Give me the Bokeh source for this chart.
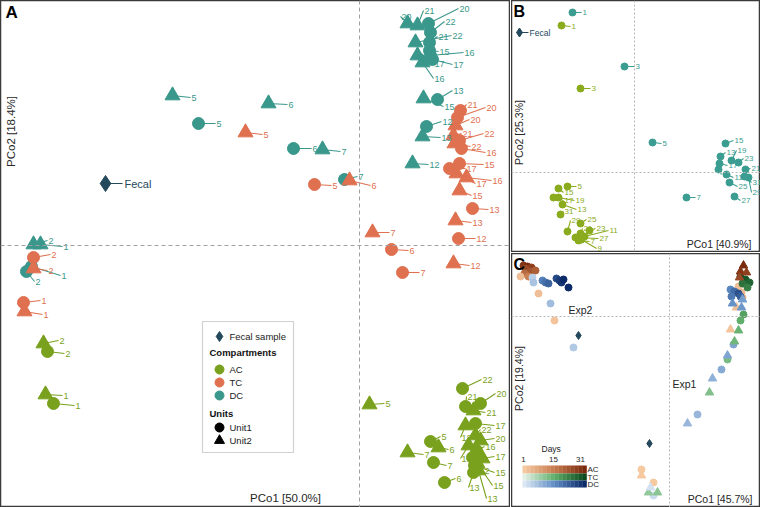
import math
from bokeh.plotting import figure
from bokeh.models import (ColumnDataSource, Span, Label, BoxAnnotation, Range1d)
from bokeh.layouts import row, column
from bokeh.embed import file_html
from bokeh.resources import INLINE
from bokeh.core.properties import value

FONT = "Liberation Sans"

# ---------------- Panel A data (PCoA, two units, three compartments) ----------------
a_comp = ["DC"] * 26 + ["TC"] * 26 + ["AC"] * 26
a_unit = ([1] * 13 + [2] * 13) * 3
a_day = [
    5, 6, 7, 2, 1, 20, 22, 21, 15, 16, 17, 13, 12,      # DC unit1
    5, 6, 7, 2, 1, 20, 21, 22, 17, 16, 15, 13, 12,      # DC unit2
    5, 6, 7, 2, 1, 21, 20, 22, 16, 15, 17, 13, 12,      # TC unit1
    5, 6, 7, 2, 1, 20, 21, 22, 17, 16, 15, 13, 12,      # TC unit2
    2, 1, 5, 7, 6, 22, 21, 20, 17, 16, 15, 13, 12,      # AC unit1
    2, 1, 5, 6, 7, 21, 12, 22, 20, 16, 17, 15, 13,      # AC unit2
]
a_pco1 = [
    -0.161, -0.066, -0.015, -0.333, -0.328, 0.069, 0.071, 0.070, 0.070, 0.071, 0.073, 0.078, 0.067,
    -0.187, -0.091, -0.037, -0.326, -0.319, 0.048, 0.058, 0.056, 0.058, 0.063, 0.064, 0.063, 0.053,
    -0.045, 0.032, 0.043, -0.326, -0.336, 0.101, 0.098, 0.100, 0.102, 0.100, 0.090, 0.113, 0.099,
    -0.114, -0.010, 0.013, -0.326, -0.335, 0.096, 0.094, 0.095, 0.097, 0.107, 0.100, 0.096, 0.094,
    -0.312, -0.306, 0.071, 0.074, 0.085, 0.103, 0.106, 0.121, 0.116, 0.117, 0.115, 0.114, 0.113,
    -0.316, -0.314, 0.010, 0.079, 0.048, 0.114, 0.106, 0.116, 0.121, 0.109, 0.123, 0.118, 0.119,
]
a_pco2 = [
    0.122, 0.097, 0.066, -0.026, -0.021, 0.222, 0.213, 0.203, 0.195, 0.190, 0.186, 0.146, 0.119,
    0.150, 0.142, 0.096, 0.001, 0.001, 0.222, 0.220, 0.203, 0.190, 0.183, 0.147, 0.109, 0.082,
    0.061, -0.004, -0.027, -0.012, -0.057, 0.135, 0.128, 0.105, 0.097, 0.082, 0.077, 0.037, 0.007,
    0.113, 0.065, 0.013, -0.023, -0.066, 0.120, 0.110, 0.102, 0.072, 0.068, 0.055, 0.025, -0.018,
    -0.106, -0.158, -0.196, -0.217, -0.237, -0.143, -0.161, -0.158, -0.178, -0.205, -0.220, -0.227, -0.212,
    -0.098, -0.149, -0.159, -0.202, -0.207, -0.165, -0.180, -0.190, -0.195, -0.200, -0.213, -0.218, -0.225,
]
# label offsets (pixels) of the repelled day labels
a_lab_dx = [
    17, 18, 13, 8, 29, 30, 14, 8, 9, 33, 20, 15, 15,
    18, 19, 18, 14, 22, -7, 6, 36, 16, 11, 20, 18, 16,
    17, 17, 17, 17, 17, 6, 28, 24, 24, 24, 16, 16, 17,
    17, 21, 17, 14, 18, 14, 8, 16, 19, 25, 12, 16, 16,
    17, 21, 10, 13, 11, 19, 1, 15, 19, 8, 20, -5, 6,
    15, 17, 15, 10, 16, 12, -5, 5, 14, -8, 12, 15, 8,
]
a_lab_dy = [
    0, 0, -3, 10, 9, -15, -11, -6, 1, -3, 5, -9, -5,
    2, 1, 2, -4, 2, -7, -15, -7, 8, 16, 8, 1, 1,
    1, 1, 0, -3, -2, -6, -10, -7, 4, 1, 0, 1, 0,
    2, 5, 0, 2, 3, -6, -2, 3, 10, 3, 5, 2, 2,
    2, 2, -5, 3, -4, -9, -10, -10, 2, -4, 7, 15, 13,
    -3, 1, -1, 2, 2, 2, 12, -6, -2, 13, -2, 22, 28,
]
a_fecal_pco1 = [-0.254]
a_fecal_pco2 = [0.062]

# ---------------- Panel B data ----------------
b_comp = ["DC"] * 16 + ["AC"] * 16
b_day = list(range(1, 32, 2)) * 2
b_pco1 = [
    -0.062, -0.010, 0.018, 0.052, 0.084, 0.092, 0.086, 0.091, 0.085, 0.097, 0.111, 0.104, 0.095, 0.100, 0.114, 0.110,
    -0.073, -0.054, -0.067, -0.056, -0.053, -0.050, -0.072, -0.076, -0.081, -0.076, -0.054, -0.045, -0.054, -0.059, -0.067, -0.074,
]
b_pco2 = [
    0.160, 0.106, 0.030, -0.025, 0.003, -0.002, 0.016, 0.029, 0.009, 0.012, 0.003, 0.010, -0.010, -0.024, -0.005, -0.004,
    0.147, 0.084, -0.014, -0.068, -0.067, -0.064, -0.032, -0.016, -0.025, -0.025, -0.061, -0.058, -0.051, -0.065, -0.059, -0.042,
]
b_lab_dx = [9, 10, 9, 9, 3, 7, 5, 8, 8, 5, 5, 5, 8, 6, 3, 7,
            9, 10, 9, 11, 15, 24, 14, 5, 10, 16, 2, 6, 6, 23, 3, 3]
b_lab_dy = [0, 0, 1, 0, 5, 3, -4, -3, 2, -10, -1, -4, 4, 4, 15, 6,
            1, 0, 0, 1, 9, -6, 5, 4, 3, 3, -5, -2, -4, 1, -11, -3]
b_fecal_pco1 = [-0.115]
b_fecal_pco2 = [0.140]

# ---------------- Panel C data (two experiments) ----------------
c_comp = (["AC"] * 11 + ["DC"] * 12 +                 # Exp2
          ["AC"] * 7 + ["AC"] * 5 + ["TC"] * 8 + ["TC"] * 5 + ["DC"] * 9 + ["DC"] * 7)
c_unit = ([1] * 11 + [1] * 12 +
          [2] * 7 + [1] * 5 + [1] * 8 + [2] * 5 + [1] * 9 + [2] * 7)
c_day = [
    29, 31, 27, 25, 23, 21, 19, 15, 3, 3, 2,
    5, 7, 18, 20, 22, 26, 28, 29, 31, 31, 8, 6,
    31, 29, 27, 25, 3, 2, 1,
    3, 4, 5, 1, 1,
    31, 29, 27, 25, 23, 18, 16, 13,
    15, 14, 12, 10, 11,
    17, 21, 25, 19, 23, 12, 11, 9, 3,
    15, 13, 14, 12, 10, 9, 2,
]
c_pco1 = [
    -0.146, -0.142, -0.138, -0.144, -0.139, -0.134, -0.145, -0.141, -0.149, -0.131, -0.115,
    -0.137, -0.136, -0.127, -0.124, -0.121, -0.113, -0.110, -0.108, -0.106, -0.101, -0.119, -0.096,
    0.074, 0.071, 0.077, 0.070, 0.067, 0.061, -0.028,
    0.069, 0.072, 0.073, -0.028, -0.016,
    0.071, 0.076, 0.080, 0.073, 0.078, 0.074, 0.071, 0.058,
    0.069, 0.065, 0.040, -0.021, -0.012,
    0.061, 0.065, 0.069, 0.062, 0.071, 0.064, 0.052, 0.028, -0.016,
    0.063, 0.073, 0.072, 0.058, 0.043, 0.018, -0.019,
]
c_pco2 = [
    0.051, 0.050, 0.049, 0.048, 0.045, 0.046, 0.043, 0.040, 0.040, 0.023, -0.004,
    0.039, 0.034, 0.036, 0.034, 0.033, 0.038, 0.036, 0.034, 0.037, 0.029, 0.013, -0.031,
    0.051, 0.045, 0.044, 0.039, 0.009, -0.013, -0.159,
    0.030, 0.024, 0.019, -0.153, -0.166,
    0.040, 0.037, 0.034, 0.033, 0.029, 0.002, -0.004, -0.043,
    -0.014, -0.025, -0.076, -0.176, -0.176,
    0.027, 0.025, 0.023, 0.020, 0.020, -0.028, -0.053, -0.098, -0.179,
    0.013, 0.017, 0.009, -0.039, -0.062, -0.107, -0.171,
]
c_fecal_pco1 = [-0.091, -0.020]
c_fecal_pco2 = [-0.019, -0.127]
c_legend_days = list(range(1, 32, 2))

# ---------------- styles ----------------
COL_A = {"AC": "#79a11d", "TC": "#df7050", "DC": "#3a978b"}
COL_B = {"AC": "#8aab1d", "DC": "#3b9d91"}
FECAL = "#24495c"
MARK = {1: "circle", 2: "triangle"}
GRAD = {"AC": ["#f6c9a1", "#c77a4d", "#7a2a0c"],
        "TC": ["#e2efe4", "#5fae6a", "#0b4a1f"],
        "DC": ["#dbe7f4", "#5d8cc4", "#0b2a68"]}


def hex2rgb(h):
    return tuple(int(h[i:i + 2], 16) for i in (1, 3, 5))


def day_color(comp, day):
    stops = GRAD[comp]
    t = (day - 1) / 30 * 2
    i = min(int(t), 1)
    f = t - i
    a, b = hex2rgb(stops[i]), hex2rgb(stops[i + 1])
    return "#%02x%02x%02x" % tuple(round(a[k] + (b[k] - a[k]) * f) for k in range(3))


def make_fig(w, h, xr, yr, dash="4 3", dash_col="#a0a0a0"):
    p = figure(width=w, height=h, x_range=Range1d(*xr), y_range=Range1d(*yr),
               output_backend="svg", toolbar_location=None,
               x_axis_location=None, y_axis_location=None, min_border=0)
    p.grid.visible = False
    p.outline_line_color = "#3a3a3a"
    p.outline_line_width = 1.5
    p.background_fill_color = "white"
    p.border_fill_color = "white"
    for dim in ("width", "height"):
        p.add_layout(Span(location=0, dimension=dim, line_color=dash_col,
                          line_dash=dash, line_width=1))
    return p


def add_label(p, text, x, y, size, bold=False, angle=0.0, align="left",
              baseline="middle", color="#262626"):
    p.add_layout(Label(x=x, y=y, x_units="screen", y_units="screen", text=text,
                       angle=angle, text_font=FONT, text_font_size=size,
                       text_font_style="bold" if bold else "normal",
                       text_align=align, text_baseline=baseline, text_color=color))


def add_points(p, comp, unit, day, x, y, ldx, ldy, colors, sizes, fsize, order):
    n = len(x)
    lx = [x[i] + ldx[i] / 1000 for i in range(n)]
    ly = [y[i] - ldy[i] / 1000 for i in range(n)]
    cols = [colors[c] for c in comp]
    seg = ColumnDataSource(dict(x0=x, y0=y, x1=lx, y1=ly, c=cols))
    p.segment("x0", "y0", "x1", "y1", source=seg, line_color="c", line_width=1.1)
    for cc, uu in order:
        idx = [i for i in range(n) if comp[i] == cc and unit[i] == uu]
        src = ColumnDataSource(dict(x=[x[i] for i in idx], y=[y[i] for i in idx]))
        p.scatter("x", "y", source=src, marker=MARK[uu], size=sizes[uu],
                  fill_color=colors[cc], line_color=colors[cc])
    tsrc = ColumnDataSource(dict(x=lx, y=ly, t=[str(d) for d in day], c=cols))
    p.text("x", "y", text="t", source=tsrc, text_color="c", text_font=value(FONT),
           text_font_size=fsize, text_baseline="middle", text_align="left", x_offset=1)


# ---------------- Panel A ----------------
A_XR, A_YR, A_W, A_H = (-0.359, 0.151), (-0.262, 0.245), 510, 507
pA = make_fig(A_W, A_H, A_XR, A_YR)
add_points(pA, a_comp, a_unit, a_day, a_pco1, a_pco2, a_lab_dx, a_lab_dy, COL_A,
           {1: 12, 2: 15}, "9px",
           [("DC", 2), ("DC", 1), ("TC", 2), ("TC", 1), ("AC", 2), ("AC", 1)])
fa = ColumnDataSource(dict(x=a_fecal_pco1, y=a_fecal_pco2,
                           x1=[a_fecal_pco1[0] + 0.017], t=["Fecal"]))
pA.segment("x", "y", "x1", "y", source=fa, line_color=FECAL, line_width=1.2)
pA.scatter("x", "y", source=fa, marker="diamond", size=16, color=FECAL)
pA.text("x1", "y", text="t", source=fa, text_color=FECAL, text_font=value(FONT),
        text_font_size="11px", text_baseline="middle", x_offset=2)

add_label(pA, "A", 5, 505, "17px", bold=True, baseline="top", color="black")
add_label(pA, "PCo2 [18.4%]", 10, 376, "11.5px", angle=math.pi / 2, align="center")
add_label(pA, "PCo1 [50.0%]", 285, 10, "11.5px", align="center")

# legend box for panel A (keys placed in screen pixels inside the box)
pA.add_layout(BoxAnnotation(left=202, right=293, bottom=55, top=186,
                            left_units="screen", right_units="screen",
                            bottom_units="screen", top_units="screen",
                            fill_color="white", fill_alpha=1,
                            line_color="#666666", line_width=1.2))


def scr2data(sx, sy):
    return (A_XR[0] + sx * (A_XR[1] - A_XR[0]) / A_W,
            A_YR[0] + sy * (A_YR[1] - A_YR[0]) / A_H)


legend_keys = [("Fecal sample", "diamond", FECAL, 171, 10),
               ("AC", "circle", COL_A["AC"], 138, 9),
               ("TC", "circle", COL_A["TC"], 125, 9),
               ("DC", "circle", COL_A["DC"], 112, 9),
               ("Unit1", "circle", "black", 80, 9),
               ("Unit2", "triangle", "black", 67, 10)]
for lab, mk, col, sy, sz in legend_keys:
    kx, ky = scr2data(219, sy)
    pA.scatter([kx], [ky], marker=mk, size=sz, color=col, level="overlay")
    add_label(pA, lab, 229, sy, "9.5px", color="#222222")
add_label(pA, "Compartments", 209, 155, "9.5px", bold=True, color="#111111")
add_label(pA, "Units", 209, 94, "9.5px", bold=True, color="#111111")

# ---------------- Panel B ----------------
pB = make_fig(249, 252, (-0.123, 0.126), (-0.080, 0.172), dash="2 2", dash_col="#b8b8b8")
add_points(pB, b_comp, [1] * len(b_comp), b_day, b_pco1, b_pco2, b_lab_dx, b_lab_dy,
           COL_B, {1: 7}, "8px", [("DC", 1), ("AC", 1)])
fb = ColumnDataSource(dict(x=b_fecal_pco1, y=b_fecal_pco2,
                           x1=[b_fecal_pco1[0] + 0.009], t=["Fecal"]))
pB.segment("x", "y", "x1", "y", source=fb, line_color=FECAL, line_width=1.1)
pB.scatter("x", "y", source=fb, marker="diamond", size=9, color=FECAL)
pB.text("x1", "y", text="t", source=fb, text_color=FECAL, text_font=value(FONT),
        text_font_size="8.5px", text_baseline="middle", x_offset=1)
add_label(pB, "B", 2, 250, "16px", bold=True, baseline="top", color="black")
add_label(pB, "PCo2 [25.3%]", 7, 120, "10.5px", angle=math.pi / 2, align="center")
add_label(pB, "PCo1 [40.9%]", 240, 9, "10.5px", align="right")

# ---------------- Panel C ----------------
pC = make_fig(249, 254, (-0.158, 0.091), (-0.191, 0.063), dash="2 2", dash_col="#b8b8b8")
c_col = [day_color(c, d) for c, d in zip(c_comp, c_day)]
for uu in (1, 2):
    idx = [i for i in range(len(c_comp)) if c_unit[i] == uu]
    src = ColumnDataSource(dict(x=[c_pco1[i] for i in idx], y=[c_pco2[i] for i in idx],
                                c=[c_col[i] for i in idx]))
    pC.scatter("x", "y", source=src, marker=MARK[uu], size=7 if uu == 1 else 8.5,
               fill_color="c", line_color="c")
pC.scatter(c_fecal_pco1, c_fecal_pco2, marker="diamond", size=8, color=FECAL)
add_label(pC, "C", 2, 252, "16px", bold=True, baseline="top", color="black")
add_label(pC, "PCo2 [19.4%]", 7, 129, "10.5px", angle=math.pi / 2, align="center")
add_label(pC, "PCo1 [45.7%]", 241, 9, "10.5px", align="right")
add_label(pC, "Exp2", 57, 198, "10.5px")
add_label(pC, "Exp1", 161, 124, "10.5px")
add_label(pC, "Days", 30, 59, "8.5px")
for txt, xx in (("1", 12), ("15", 42), ("31", 69)):
    add_label(pC, txt, xx, 48, "8px", align="center")
rows = [("AC", 34, 42), ("TC", 27, 34), ("DC", 20, 27)]
tile_w = 64 / len(c_legend_days)
for comp, b0, b1 in rows:
    for k, d in enumerate(c_legend_days):
        pC.add_layout(BoxAnnotation(left=11 + k * tile_w, right=11 + (k + 1) * tile_w + 0.3,
                                    bottom=b0, top=b1,
                                    left_units="screen", right_units="screen",
                                    bottom_units="screen", top_units="screen",
                                    fill_color=day_color(comp, d), fill_alpha=1,
                                    line_alpha=0))
    add_label(pC, comp, 76, (b0 + b1) / 2, "8px")

layout = row(pA, column(pB, pC, spacing=1), spacing=1)
open("out.html", "w").write(file_html(layout, INLINE))
